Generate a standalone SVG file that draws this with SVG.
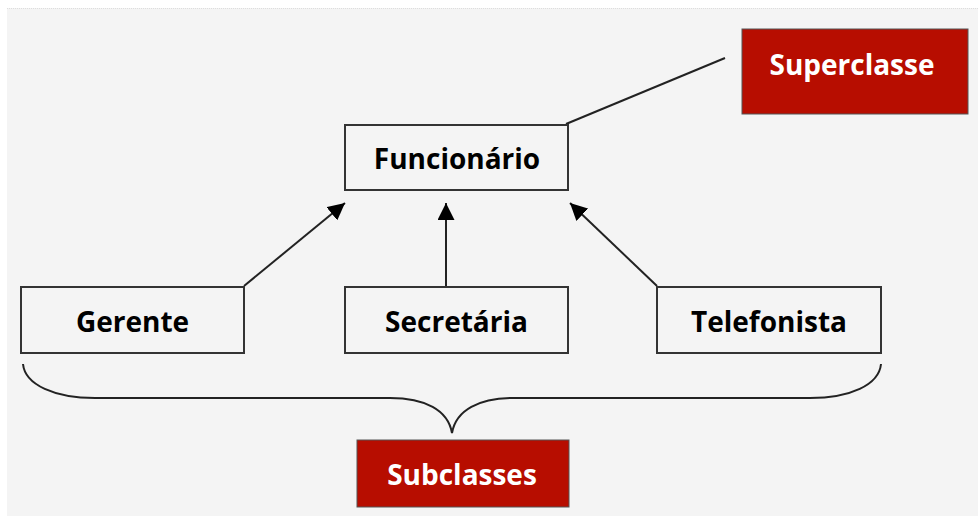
<svg xmlns="http://www.w3.org/2000/svg" width="978" height="516" viewBox="0 0 978 516">
<defs>
<style>
.box{fill:#f4f4f4;stroke:#333;stroke-width:2}
.red{fill:#b70d00;stroke:#555;stroke-width:1}
.lbl{font-family:"Open Sans",Lato,sans-serif;font-weight:bold;font-size:28px;text-anchor:middle;fill:#000}
.wlbl{font-family:"Open Sans",Lato,sans-serif;font-weight:bold;font-size:28px;text-anchor:middle;fill:#fff}
.ln{stroke:#222;stroke-width:2;fill:none}
</style>
<marker id="ah" viewBox="0 0 10 10" refX="10" refY="5" markerWidth="8.5" markerHeight="8.5" orient="auto" markerUnits="strokeWidth">
<path d="M0,0 L10,5 L0,10 z" fill="#000"/>
</marker>
</defs>
<rect x="0" y="0" width="978" height="516" fill="#fff"/>
<rect x="7" y="8" width="971" height="508" fill="#f4f4f4"/>
<line x1="7" y1="8.5" x2="978" y2="8.5" stroke="#ddd" stroke-width="1" stroke-dasharray="1 1"/>
<g id="connectors">
<line class="ln" x1="725" y1="58" x2="566" y2="124"/>
<line class="ln" x1="244" y1="286" x2="345" y2="203" marker-end="url(#ah)"/>
<line class="ln" x1="446" y1="286" x2="446" y2="203" marker-end="url(#ah)"/>
<line class="ln" x1="657" y1="286" x2="570" y2="203" marker-end="url(#ah)"/>
<path class="ln" d="M23,364 C25,385 55,398 95,398 L390,398 C425,398 448,410 452,433 C456,410 479,398 514,398 L810,398 C850,398 879,385 881,364"/>
</g>
<g id="funcionario">
<rect class="box" x="345" y="125" width="223" height="65"/>
<text class="lbl" x="457" y="169">Funcionário</text>
</g>
<g id="gerente">
<rect class="box" x="21" y="287" width="223" height="66"/>
<text class="lbl" x="132.5" y="332">Gerente</text>
</g>
<g id="secretaria">
<rect class="box" x="345" y="287" width="223" height="66"/>
<text class="lbl" x="456.5" y="332">Secretária</text>
</g>
<g id="telefonista">
<rect class="box" x="657" y="287" width="224" height="66"/>
<text class="lbl" x="769" y="332">Telefonista</text>
</g>
<g id="superclasse">
<rect class="red" x="742" y="29" width="226" height="85"/>
<text class="wlbl" x="852" y="75">Superclasse</text>
</g>
<g id="subclasses">
<rect class="red" x="357" y="440" width="212" height="67"/>
<text class="wlbl" x="462" y="485">Subclasses</text>
</g>
</svg>
